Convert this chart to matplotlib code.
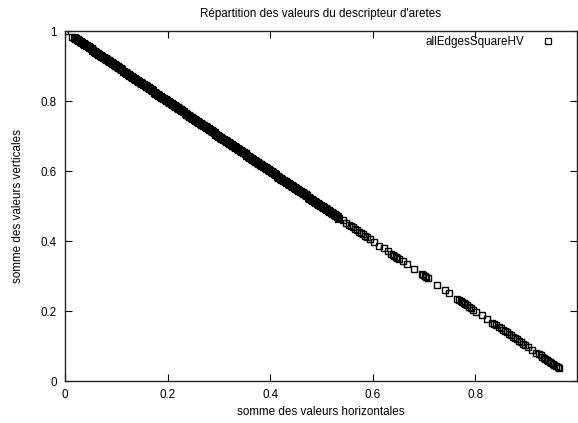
import matplotlib
matplotlib.use("Agg")
import matplotlib.pyplot as plt

plt.rcParams['font.family'] = ['Liberation Sans', 'DejaVu Sans']

title = "Répartition des valeurs du descripteur d'aretes"
xlabel = "somme des valeurs horizontales"
ylabel = "somme des valeurs verticales"
series_name = "allEdgesSquareHV"

x_start = [0.000, 0.013]
y_start = [1.000, 0.983]

x_dense = [0.017, 0.020, 0.023, 0.026, 0.029, 0.032, 0.035, 0.038, 0.041, 0.044,
           0.047, 0.050, 0.053, 0.056, 0.059, 0.062, 0.065, 0.068, 0.071, 0.074,
           0.077, 0.080, 0.083, 0.086, 0.089, 0.092, 0.095, 0.098, 0.101, 0.104,
           0.107, 0.110, 0.113, 0.116, 0.119, 0.122, 0.125, 0.128, 0.131, 0.134,
           0.137, 0.140, 0.143, 0.146, 0.149, 0.152, 0.155, 0.158, 0.161, 0.164,
           0.167, 0.170, 0.173, 0.176, 0.179, 0.182, 0.185, 0.188, 0.191, 0.194,
           0.197, 0.200, 0.203, 0.206, 0.209, 0.212, 0.215, 0.218, 0.221, 0.224,
           0.227, 0.230, 0.233, 0.236, 0.239, 0.242, 0.245, 0.248, 0.251, 0.254,
           0.257, 0.260, 0.263, 0.266, 0.269, 0.272, 0.275, 0.278, 0.281, 0.284,
           0.287, 0.290, 0.293, 0.296, 0.299, 0.302, 0.305, 0.308, 0.311, 0.314,
           0.317, 0.320, 0.323, 0.326, 0.329, 0.332, 0.335, 0.338, 0.341, 0.344,
           0.347, 0.350, 0.353, 0.356, 0.359, 0.362, 0.365, 0.368, 0.371, 0.374,
           0.377, 0.380, 0.383, 0.386, 0.389, 0.392, 0.395, 0.398, 0.401, 0.404,
           0.407, 0.410, 0.413, 0.416, 0.419, 0.422, 0.425, 0.428, 0.431, 0.434,
           0.437, 0.440, 0.443, 0.446, 0.449, 0.452, 0.455, 0.458, 0.461, 0.464,
           0.467, 0.470, 0.473, 0.476, 0.479, 0.482, 0.485, 0.488, 0.491, 0.494,
           0.497, 0.500, 0.503, 0.506, 0.509, 0.512, 0.515, 0.518, 0.521, 0.524,
           0.527, 0.530, 0.533]
y_dense = [0.983, 0.980, 0.977, 0.974, 0.971, 0.968, 0.965, 0.962, 0.959, 0.956,
           0.953, 0.950, 0.947, 0.944, 0.941, 0.938, 0.935, 0.932, 0.929, 0.926,
           0.923, 0.920, 0.917, 0.914, 0.911, 0.908, 0.905, 0.902, 0.899, 0.896,
           0.893, 0.890, 0.887, 0.884, 0.881, 0.878, 0.875, 0.872, 0.869, 0.866,
           0.863, 0.860, 0.857, 0.854, 0.851, 0.848, 0.845, 0.842, 0.839, 0.836,
           0.833, 0.830, 0.827, 0.824, 0.821, 0.818, 0.815, 0.812, 0.809, 0.806,
           0.803, 0.800, 0.797, 0.794, 0.791, 0.788, 0.785, 0.782, 0.779, 0.776,
           0.773, 0.770, 0.767, 0.764, 0.761, 0.758, 0.755, 0.752, 0.749, 0.746,
           0.743, 0.740, 0.737, 0.734, 0.731, 0.728, 0.725, 0.722, 0.719, 0.716,
           0.713, 0.710, 0.707, 0.704, 0.701, 0.698, 0.695, 0.692, 0.689, 0.686,
           0.683, 0.680, 0.677, 0.674, 0.671, 0.668, 0.665, 0.662, 0.659, 0.656,
           0.653, 0.650, 0.647, 0.644, 0.641, 0.638, 0.635, 0.632, 0.629, 0.626,
           0.623, 0.620, 0.617, 0.614, 0.611, 0.608, 0.605, 0.602, 0.599, 0.596,
           0.593, 0.590, 0.587, 0.584, 0.581, 0.578, 0.575, 0.572, 0.569, 0.566,
           0.563, 0.560, 0.557, 0.554, 0.551, 0.548, 0.545, 0.542, 0.539, 0.536,
           0.533, 0.530, 0.527, 0.524, 0.521, 0.518, 0.515, 0.512, 0.509, 0.506,
           0.503, 0.500, 0.497, 0.494, 0.491, 0.488, 0.485, 0.482, 0.479, 0.476,
           0.473, 0.470, 0.467]

x_sparse = [0.541, 0.548, 0.553, 0.557, 0.561, 0.565, 0.569, 0.573, 0.577, 0.581,
            0.585, 0.589, 0.594, 0.603, 0.613, 0.621, 0.629, 0.636, 0.639, 0.642,
            0.645, 0.648, 0.652, 0.658, 0.666, 0.681, 0.695, 0.698, 0.701, 0.704,
            0.707, 0.726, 0.740, 0.749, 0.765, 0.768, 0.771, 0.774, 0.777, 0.780,
            0.784, 0.788, 0.792, 0.796, 0.802, 0.812, 0.823, 0.833, 0.837, 0.841,
            0.845, 0.849, 0.853, 0.857, 0.861, 0.865, 0.869, 0.873, 0.877, 0.881,
            0.885, 0.889, 0.893, 0.897, 0.902, 0.911, 0.919, 0.923, 0.927, 0.930,
            0.933, 0.936, 0.939, 0.942, 0.945, 0.948, 0.951, 0.954, 0.957, 0.960,
            0.963]
y_sparse = [0.459, 0.452, 0.447, 0.443, 0.439, 0.435, 0.431, 0.427, 0.423, 0.419,
            0.415, 0.411, 0.406, 0.397, 0.387, 0.379, 0.371, 0.364, 0.361, 0.358,
            0.355, 0.352, 0.348, 0.342, 0.334, 0.319, 0.305, 0.302, 0.299, 0.296,
            0.293, 0.274, 0.260, 0.251, 0.235, 0.232, 0.229, 0.226, 0.223, 0.220,
            0.216, 0.212, 0.208, 0.204, 0.198, 0.188, 0.177, 0.167, 0.163, 0.159,
            0.155, 0.151, 0.147, 0.143, 0.139, 0.135, 0.131, 0.127, 0.123, 0.119,
            0.115, 0.111, 0.107, 0.103, 0.098, 0.089, 0.081, 0.077, 0.073, 0.070,
            0.067, 0.064, 0.061, 0.058, 0.055, 0.052, 0.049, 0.046, 0.043, 0.040,
            0.037]

xticks = [0, 0.2, 0.4, 0.6, 0.8]
xticklabels = ["0", "0.2", "0.4", "0.6", "0.8"]
yticks = [0, 0.2, 0.4, 0.6, 0.8, 1]
yticklabels = ["0", "0.2", "0.4", "0.6", "0.8", "1"]

FS = 8.4
W, H = 578, 423
fig = plt.figure(figsize=(W / 100, H / 100), dpi=100)
L, R, B, T = 65, 577, 381, 31
ax = fig.add_axes([L / W, 1 - B / H, (R - L) / W, (B - T) / H])

style = dict(linestyle='none', marker='s', markerfacecolor='none',
             markeredgecolor='black')
# dense band: many overlapping squares that merge into a solid stripe
ax.plot(x_dense, y_dense, markersize=3.6, markeredgewidth=2.3, **style)
ax.plot(x_start + x_sparse, y_start + y_sparse, markersize=4.5,
        markeredgewidth=1.0, label=series_name, **style)

ax.set_xlim(0, 0.998)
ax.set_ylim(0, 1)
ax.set_xticks(xticks)
ax.set_xticklabels(xticklabels)
ax.set_yticks(yticks)
ax.set_yticklabels(yticklabels)
ax.tick_params(direction='in', length=5, width=0.8, top=True, right=True,
               labelsize=FS, pad=6, colors='black')
for s in ax.spines.values():
    s.set_linewidth(1.0)
    s.set_color('#222222')

ax.set_title(title, fontsize=FS, pad=10)
ax.set_xlabel(xlabel, fontsize=FS, labelpad=3)
ax.set_ylabel(ylabel, fontsize=FS, labelpad=12)

leg = ax.legend(loc='upper right', bbox_to_anchor=(555 / W, 1 - 36 / H),
                bbox_transform=fig.transFigure, frameon=False, markerfirst=False,
                fontsize=FS, handlelength=1.2, handletextpad=1.4, borderaxespad=0,
                borderpad=0)
for h in leg.legend_handles:
    h.set_markersize(3.8)
    h.set_markeredgewidth(0.9)

fig.savefig("out.png", dpi=100)
